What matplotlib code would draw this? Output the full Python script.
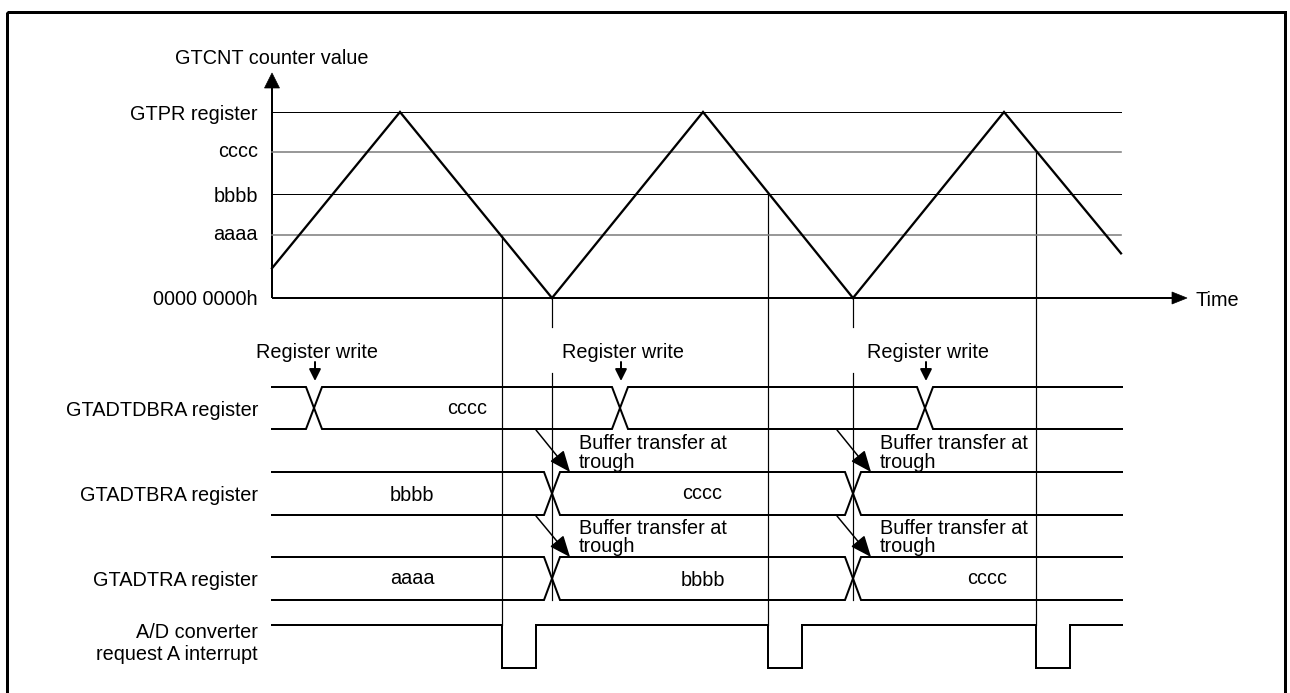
import matplotlib
matplotlib.use("Agg")
import matplotlib.pyplot as plt
from matplotlib.patches import Polygon, Rectangle

# ---------------- data (time axis in drawing units) ----------------
counter_t = [272, 400, 552, 703, 853, 1004, 1121]
counter_v = [0.16, 1.0, 0.0, 1.0, 0.0, 1.0, 0.24]

level_names = ["GTPR register", "cccc", "bbbb", "aaaa", "0000 0000h"]
level_values = [1.0, 0.785, 0.559, 0.339, 0.0]
level_colors = ["black", "#808080", "black", "#808080", "black"]

write_times = [314, 620, 925]          # register write to GTADTDBRA
trough_times = [552, 853]              # buffer transfers at trough
match_times = [502, 768, 1036]         # compare match -> A/D request
match_values = [0.339, 0.559, 0.785]   # aaaa, bbbb, cccc
pulse_len = 34

row_names = ["GTADTDBRA register", "GTADTBRA register", "GTADTRA register"]
row_transitions = [write_times, trough_times, trough_times]
row_values = [["", "cccc", "", ""], ["bbbb", "cccc", ""], ["aaaa", "bbbb", "cccc"]]
ad_label = ["A/D converter", "request A interrupt"]

# ---------------- layout ----------------
W, H = 1290, 693
X0, X1 = 272, 1122
ZERO_PX, TOP_PX = 298, 112
ROWS = [(387, 429), (472, 515), (557, 600)]
AD_HI, AD_LO = 625, 668
HALF = 8
LABEL_X = 258
FS = 14.3
LW = 0.72  # points per pixel

plt.rcParams["font.family"] = ["Liberation Sans", "DejaVu Sans"]

fig = plt.figure(figsize=(W / 100, H / 100), dpi=100)
ax = fig.add_axes([0, 0, 1, 1])
ax.set_xlim(0, W)
ax.set_ylim(H, 0)
ax.axis("off")

axc = fig.add_axes([0, (H - ZERO_PX) / H, 1, (ZERO_PX - TOP_PX) / H])
axc.set_xlim(0, W)
axc.set_ylim(0, 1)
axc.axis("off")
axc.patch.set_alpha(0)


def cy(v):
    """counter value -> main-axes y"""
    return ax.transData.inverted().transform(axc.transData.transform((0, v)))[1]


def vpos(s):
    return "center" if s in ("aaaa", "cccc") else "center_baseline"


# outer border
ax.add_patch(Rectangle((7, 12), 1278, 700, fill=False, lw=3 * LW, ec="black", clip_on=False))

# ---------------- counter graph ----------------
for name, v, c in zip(level_names, level_values, level_colors):
    if v > 0:
        axc.plot([X0, counter_t[-1]], [v, v], color=c, lw=1.0 * LW if c == "black" else 1.6 * LW,
                 clip_on=False, zorder=1)
    axc.text(LABEL_X, v, name, ha="right", va=vpos(name), fontsize=FS, clip_on=False)

axc.plot(counter_t, counter_v, color="black", lw=2.3 * LW, clip_on=False, zorder=3,
         solid_joinstyle="miter")

# y axis with arrow
ax.plot([X0, X0], [ZERO_PX, 86], color="black", lw=2 * LW, solid_capstyle="butt", zorder=4)
ax.add_patch(Polygon([(X0 - 7.5, 88), (X0 + 7.5, 88), (X0, 73)], closed=True, fc="black", ec="black", lw=0.5))
ax.text(X0, 57, "GTCNT counter value", ha="center", va="center_baseline", fontsize=FS)

# time axis with arrow
ax.plot([X0, 1174], [ZERO_PX, ZERO_PX], color="black", lw=2 * LW, solid_capstyle="butt", zorder=4)
ax.add_patch(Polygon([(1172, ZERO_PX - 6), (1172, ZERO_PX + 6), (1187, ZERO_PX)], closed=True,
                     fc="black", ec="black", lw=0.5))
ax.text(1195, ZERO_PX, "Time", ha="left", va="center_baseline", fontsize=FS)

# ---------------- vertical guide lines ----------------
for t, v in zip(match_times, match_values):
    ax.plot([t, t], [cy(v), AD_HI], color="black", lw=1.2 * LW, zorder=1)
for t in trough_times:
    ax.plot([t, t], [ZERO_PX, 327], color="black", lw=1.2 * LW, zorder=1)
    ax.plot([t, t], [373, ROWS[2][1]], color="black", lw=1.2 * LW, zorder=1)

# ---------------- register rows ----------------
for (top, bot), name, trans, vals in zip(ROWS, row_names, row_transitions, row_values):
    # two polylines that swap at each transition (X shape)
    for start_y in (top, bot):
        xs, ys = [X0], [start_y]
        y = start_y
        for t in trans:
            xs += [t - HALF]
            ys += [y]
            y = bot if y == top else top
            xs += [t + HALF]
            ys += [y]
        xs.append(X1)
        ys.append(y)
        ax.plot(xs, ys, color="black", lw=2 * LW, zorder=3, solid_joinstyle="miter")
    mid = (top + bot) / 2
    ax.text(LABEL_X, mid, name, ha="right", va="center_baseline", fontsize=FS)
    bounds = [X0] + list(trans) + [X1]
    for i, s in enumerate(vals):
        if s:
            xc = (bounds[i] + bounds[i + 1]) / 2
            ax.text(xc, mid, s, ha="center", va=vpos(s), fontsize=FS)

# register write markers
for t in write_times:
    ax.text(t + 3, 350, "Register write", ha="center", va="center_baseline", fontsize=FS)
    ax.annotate("", xy=(t + 1, 381), xytext=(t + 1, 362),
                arrowprops=dict(arrowstyle="-|>,head_length=0.5,head_width=0.25",
                                mutation_scale=14, lw=2 * LW, color="black",
                                shrinkA=0, shrinkB=0))

# buffer transfer arrows and notes
for t in trough_times:
    for (utop, ubot), (ltop, lbot) in ((ROWS[0], ROWS[1]), (ROWS[1], ROWS[2])):
        ax.annotate("", xy=(t + 18, ltop), xytext=(t - 16, ubot + 1),
                    arrowprops=dict(arrowstyle="-|>,head_length=0.65,head_width=0.27",
                                    mutation_scale=20, lw=1.5 * LW, color="black",
                                    shrinkA=0, shrinkB=0))
        ax.text(t + 27, ltop - 23, "Buffer transfer at", ha="left", va="baseline", fontsize=FS)
        ax.text(t + 27, ltop - 4.5, "trough", ha="left", va="baseline", fontsize=FS)

# ---------------- A/D converter request ----------------
xs, ys = [X0], [AD_HI]
for t in match_times:
    xs += [t, t, t + pulse_len, t + pulse_len]
    ys += [AD_HI, AD_LO, AD_LO, AD_HI]
xs.append(X1)
ys.append(AD_HI)
ax.plot(xs, ys, color="black", lw=2 * LW, zorder=3, solid_joinstyle="miter")
ax.text(LABEL_X, 631, ad_label[0], ha="right", va="center_baseline", fontsize=FS)
ax.text(LABEL_X, 653, ad_label[1], ha="right", va="center_baseline", fontsize=FS)

fig.savefig("out.png", dpi=100)
